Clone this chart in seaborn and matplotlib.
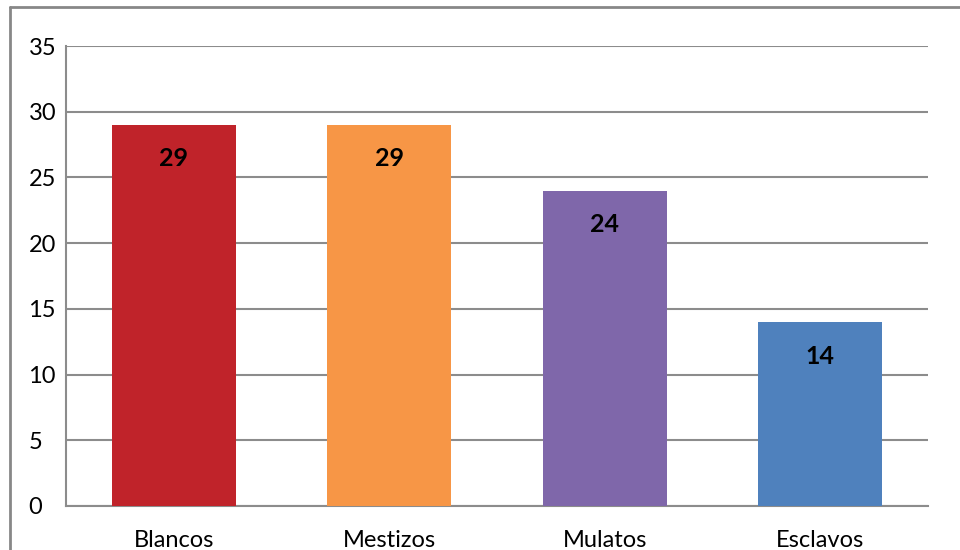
import matplotlib
matplotlib.use("Agg")
import matplotlib.pyplot as plt
from matplotlib.lines import Line2D
import seaborn as sns
import pandas as pd

categories = ["Blancos", "Mestizos", "Mulatos", "Esclavos"]
values = [29, 29, 24, 14]
colors = ["#C0232A", "#F79646", "#7F67AA", "#4F81BD"]
yticks = [0, 5, 10, 15, 20, 25, 30, 35]

sns.set_theme(style="white")
plt.rcParams['font.family'] = ['Lato', 'DejaVu Sans']

df = pd.DataFrame({"cat": categories, "val": values})

fig = plt.figure(figsize=(9.6, 5.5), dpi=100)
ax = fig.add_axes([66/960, 1-506/550, (928-66)/960, (506-46)/550])

sns.barplot(data=df, x="cat", y="val", hue="cat", palette=colors,
            width=0.575, legend=False, ax=ax, saturation=1, zorder=3,
            linewidth=0, edgecolor="none")

ax.set_ylim(0, 35)
ax.set_xlim(-0.5, 3.5)
ax.set_yticks(yticks)
ax.set_yticklabels([str(t) for t in yticks])
ax.set_xlabel("")
ax.set_ylabel("")
ax.yaxis.grid(True, color="#8C8C8C", linewidth=1.5, zorder=0)
ax.set_axisbelow(True)
for side in ["top", "right"]:
    ax.spines[side].set_visible(False)
for side in ["left", "bottom"]:
    ax.spines[side].set_color("#8C8C8C")
    ax.spines[side].set_linewidth(1.5)
ax.tick_params(axis="both", length=0, labelsize=17, colors="black")
ax.tick_params(axis="x", pad=17)
for lbl in ax.get_yticklabels():
    lbl.set_horizontalalignment("left")
ax.yaxis.set_tick_params(pad=27)

for i, v in enumerate(values):
    ax.annotate(str(v), xy=(i, v), xytext=(0, -24.5), textcoords="offset points",
                ha="center", va="center", fontsize=18, fontweight="bold", color="black")

# figure border (top and left)
fig.add_artist(Line2D([10/960, 1], [1-7/550, 1-7/550], color="#878787", linewidth=2, transform=fig.transFigure))
fig.add_artist(Line2D([10/960, 10/960], [0, 1-7/550], color="#878787", linewidth=2, transform=fig.transFigure))

fig.savefig("out.png", dpi=100)
